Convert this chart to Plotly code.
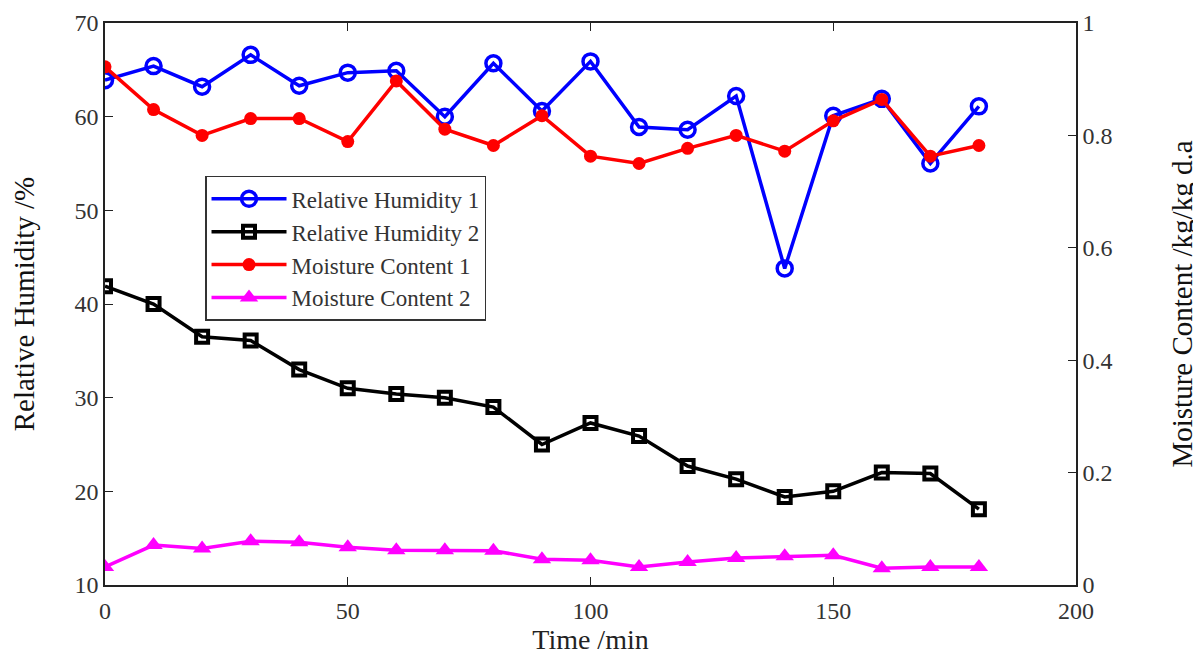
import plotly.graph_objects as go

time_min = [0, 10, 20, 30, 40, 50, 60, 70, 80, 90, 100, 110, 120, 130, 140, 150, 160, 170, 180]
rh1 = [63.9, 65.4, 63.2, 66.6, 63.3, 64.7, 64.9, 60.0, 65.7, 60.6, 65.9, 58.9, 58.6, 62.2, 43.8, 60.1, 61.9, 55.0, 61.1]
rh2 = [41.9, 40.0, 36.5, 36.1, 33.0, 31.0, 30.4, 30.0, 29.0, 25.0, 27.3, 25.9, 22.7, 21.3, 19.4, 20.0, 22.0, 21.9, 18.1]
mc1 = [0.922, 0.846, 0.800, 0.830, 0.830, 0.789, 0.897, 0.811, 0.782, 0.835, 0.763, 0.750, 0.777, 0.800, 0.772, 0.826, 0.864, 0.763, 0.782]
mc2 = [0.032, 0.071, 0.065, 0.078, 0.076, 0.067, 0.062, 0.062, 0.061, 0.046, 0.044, 0.032, 0.041, 0.048, 0.051, 0.053, 0.030, 0.032, 0.032]

font_family = "Liberation Serif, Times New Roman, serif"

fig = go.Figure()
fig.add_trace(go.Scatter(x=time_min, y=rh1, name="Relative Humidity 1", mode="lines+markers",
                         line=dict(color="#0000ff", width=3.5),
                         marker=dict(symbol="circle-open", size=15, color="#0000ff", line=dict(width=3.5))))
fig.add_trace(go.Scatter(x=time_min, y=rh2, name="Relative Humidity 2", mode="lines+markers",
                         line=dict(color="#000000", width=3.5),
                         marker=dict(symbol="square-open", size=12, color="#000000", line=dict(width=4))))
fig.add_trace(go.Scatter(x=time_min, y=mc1, name="Moisture Content 1", mode="lines+markers", yaxis="y2",
                         line=dict(color="#ff0000", width=3.5),
                         marker=dict(symbol="circle", size=13, color="#ff0000")))
fig.add_trace(go.Scatter(x=time_min, y=mc2, name="Moisture Content 2", mode="lines+markers", yaxis="y2",
                         line=dict(color="#ff00ff", width=3.5),
                         marker=dict(symbol="triangle-up", size=16, color="#ff00ff")))

axis_common = dict(showgrid=False, zeroline=False, linecolor="#222222", linewidth=1.5,
                   ticks="inside", ticklen=8, tickcolor="#222222", automargin=False,
                   ticklabeloverflow="allow",
                   tickfont=dict(family=font_family, size=24, color="#333333"))

# the page body adds an 8px offset; margins compensate for it
fig.update_layout(
    width=1201, height=662,
    margin=dict(l=97, r=133, t=15, b=85),
    paper_bgcolor="white", plot_bgcolor="white",
    font=dict(family=font_family, color="#222222"),
    xaxis=dict(range=[0, 200], tickvals=[0, 50, 100, 150, 200], mirror="ticks", ticklabelstandoff=3,
               title=dict(text="Time /min", font=dict(family=font_family, size=28, color="#222222"), standoff=0),
               **axis_common),
    yaxis=dict(range=[10, 70], tickvals=[10, 20, 30, 40, 50, 60, 70],
               title=dict(text="Relative Humidity /%", font=dict(family=font_family, size=29, color="#111111"), standoff=34),
               **axis_common),
    yaxis2=dict(range=[0, 1], tickvals=[0, 0.2, 0.4, 0.6, 0.8, 1], ticktext=["0", "0.2", "0.4", "0.6", "0.8", "1"],
                overlaying="y", side="right",
                title=dict(text="Moisture Content /kg/kg d.a", font=dict(family=font_family, size=29, color="#111111"), standoff=60),
                **axis_common),
    legend=dict(x=0.103, y=0.728, xanchor="left", yanchor="top",
                bordercolor="#333333", borderwidth=1.5, bgcolor="white",
                font=dict(family=font_family, size=23, color="#333333"),
                itemwidth=75, tracegroupgap=0),
    showlegend=True,
)

fig.write_html("out.html")
